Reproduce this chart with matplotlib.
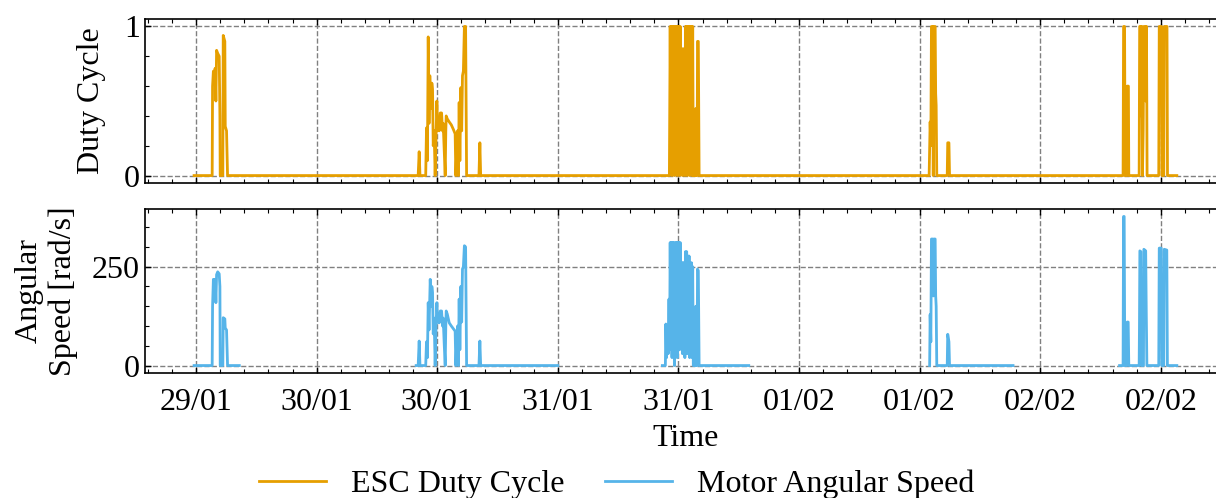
import numpy as np
import pandas as pd
import matplotlib
matplotlib.use("Agg")
import matplotlib.pyplot as plt
import matplotlib.dates as mdates
from matplotlib.ticker import MultipleLocator, AutoMinorLocator

# hours after 29/01 12:00
start = pd.Timestamp("2023-01-29 12:00")

duty_hours = [
    -0.2, 1.60, 1.64, 1.72, 1.80, 1.90, 1.97, 2.04, 2.15, 2.30, 2.37, 2.40, 2.66, 2.70, 2.86, 2.90, 3.03, 3.10, 3.13,
    22.10, 22.20, 22.28, 22.85, 22.93, 23.02, 23.10, 23.18, 23.26, 23.36, 23.46, 23.53, 23.60, 23.69, 23.79, 23.88,
    23.96, 24.05, 24.12, 24.19, 24.30, 24.43, 24.52, 24.59, 24.70, 24.79, 24.85, 24.89, 25.00, 25.19, 25.40, 25.60,
    25.78, 25.85, 25.95, 26.02, 26.10, 26.18, 26.25, 26.35, 26.43, 26.51, 26.60, 26.70, 26.82, 26.92,
    28.15, 28.24, 28.32,
    47.10, 47.18, 47.24, 47.30, 47.36, 47.42, 47.48, 47.54, 47.60, 47.70, 47.76, 47.82, 47.88, 47.94, 48.00, 48.06,
    48.12, 48.18, 48.26, 48.34, 48.40, 48.46, 48.52, 48.58, 48.64, 48.70, 48.76, 48.82, 48.88, 48.94, 49.00, 49.06,
    49.12, 49.18, 49.24, 49.30, 49.36, 49.42, 49.48, 49.70, 49.73, 49.78, 49.86, 49.90, 49.98, 50.06,
    72.95, 73.05, 73.12, 73.18, 73.30, 73.36, 73.42, 73.55, 73.60, 73.65, 73.71, 74.75, 74.80, 74.92, 74.98,
    92.25, 92.30, 92.40, 92.45, 92.62, 92.66, 92.78, 92.82, 93.85, 93.90, 94.00, 94.06, 94.12, 94.18, 94.25, 94.32,
    94.45, 94.52, 94.58, 94.64, 95.80, 95.85, 96.08, 96.12, 96.30, 96.35, 96.62, 96.67, 97.6,
]
duty_vals = [
    0, 0, 0.60, 0.70, 0.68, 0.72, 0.50, 0.84, 0.82, 0.80, 0.40, 0, 0, 0.94, 0.90, 0.33, 0.30, 0.10, 0,
    0, 0.16, 0, 0, 0.32, 0.10, 0.93, 0.35, 0.67, 0.45, 0.62, 0.58, 0.20, 0.30, 0, 0.25,
    0.50, 0.30, 0.38, 0.30, 0.42, 0.42, 0.30, 0.35, 0.15, 0, 0.30, 0.40, 0.38, 0.36, 0.34, 0.31,
    0.28, 0, 0.20, 0.30, 0, 0.49, 0.10, 0.59, 0.30, 0.67, 0.70, 1.0, 1.0, 0,
    0, 0.22, 0,
    0, 1.0, 0.2, 1.0, 0, 1.0, 0.3, 1.0, 0, 1.0, 0.1, 1.0, 0, 1.0, 0.4, 1.0,
    0, 1.0, 0.2, 0.85, 0, 0.85, 0.3, 0.85, 0, 1.0, 0.2, 1.0, 0, 1.0, 0.5, 1.0,
    0, 1.0, 0.3, 1.0, 0, 1.0, 0, 0, 0.45, 0, 0, 0.90, 0.90, 0,
    0, 0.36, 0.20, 1.0, 1.0, 0, 1.0, 1.0, 0.55, 0.47, 0, 0, 0.22, 0.22, 0,
    0, 1.0, 1.0, 0, 0, 0.60, 0.60, 0, 0, 1.0, 1.0, 0.4, 1.0, 0, 0.30, 1.0,
    1.0, 0.5, 1.0, 0, 0, 1.0, 1.0, 0, 0, 1.0, 1.0, 0, 0,
]

speed_hours = [
    -0.2, 1.60, 1.64, 1.72, 1.80, 1.90, 1.97, 2.04, 2.15, 2.30, 2.37, 2.40, 2.66, 2.70, 2.86, 2.90, 3.03, 3.10, 3.13, 4.3,
    10.0,
    21.9, 22.10, 22.20, 22.28, 22.85, 22.93, 23.02, 23.10, 23.18, 23.30, 23.40, 23.46, 23.53, 23.60, 23.69, 23.79,
    23.88, 23.96, 24.05, 24.12, 24.19, 24.30, 24.43, 24.52, 24.59, 24.70, 24.79, 24.85, 24.89, 25.00, 25.19, 25.40,
    25.60, 25.78, 25.85, 25.95, 26.02, 26.10, 26.18, 26.25, 26.35, 26.43, 26.51, 26.60, 26.70, 26.82, 26.92,
    28.15, 28.24, 28.32, 36.0,
    40.0,
    46.4, 46.70, 46.75, 46.82, 46.90, 46.98, 47.06, 47.12, 47.18, 47.24, 47.30, 47.36, 47.42, 47.48, 47.54, 47.60,
    47.70, 47.76, 47.82, 47.88, 47.94, 48.00, 48.06, 48.12, 48.18, 48.26, 48.34, 48.40, 48.46, 48.52, 48.58, 48.64,
    48.70, 48.76, 48.82, 48.88, 48.94, 49.00, 49.06, 49.12, 49.18, 49.24, 49.30, 49.36, 49.42, 49.48, 49.70, 49.73,
    49.78, 49.86, 49.90, 49.98, 50.06, 55.0,
    65.0,
    73.0, 73.05, 73.12, 73.18, 73.30, 73.36, 73.42, 73.55, 73.60, 73.65, 73.71, 74.75, 74.80, 74.92, 74.98, 81.3,
    85.0,
    91.9, 92.25, 92.30, 92.36, 92.42, 92.62, 92.66, 92.76, 92.82, 93.85, 93.88, 93.92, 94.02, 94.08, 94.28, 94.32,
    94.50, 94.56, 94.62, 95.80, 95.85, 96.05, 96.10, 96.30, 96.35, 96.60, 96.66, 97.6,
]
speed_vals = [
    0, 0, 150, 218, 215, 218, 159, 230, 237, 232, 200, 0, 0, 121, 118, 95, 90, 30, 0, 0,
    np.nan,
    0, 0, 62, 0, 0, 60, 20, 159, 90, 218, 150, 200, 184, 80, 120, 0,
    100, 159, 110, 130, 108, 138, 138, 100, 120, 50, 0, 100, 138, 130, 108, 100,
    93, 87, 0, 70, 100, 0, 168, 40, 200, 110, 244, 250, 303, 300, 0,
    0, 62, 0, 0,
    np.nan,
    0, 0, 105, 20, 100, 30, 168, 40, 311, 60, 311, 20, 311, 100, 311, 0,
    311, 50, 311, 20, 311, 150, 311, 40, 311, 80, 260, 30, 260, 100, 260, 20,
    288, 80, 288, 30, 277, 150, 277, 20, 260, 100, 260, 20, 250, 0, 0, 150,
    0, 0, 244, 240, 0, 0,
    np.nan,
    0, 129, 60, 320, 320, 176, 320, 320, 176, 150, 0, 0, 79, 60, 0, 0,
    np.nan,
    0, 0, 377, 377, 0, 0, 110, 110, 0, 0, 95, 290, 288, 0, 0, 294,
    290, 130, 0, 0, 297, 297, 0, 0, 294, 292, 0, 0,
]

duty_time = start + pd.to_timedelta(duty_hours, unit="h")
speed_time = start + pd.to_timedelta(speed_hours, unit="h")

plt.rcParams["font.family"] = ["Liberation Serif", "DejaVu Serif"]
plt.rcParams["font.size"] = 23
plt.rcParams["axes.linewidth"] = 1.2
plt.rcParams["xtick.direction"] = "in"
plt.rcParams["ytick.direction"] = "in"
plt.rcParams["xtick.top"] = True
plt.rcParams["ytick.right"] = True
plt.rcParams["xtick.major.size"] = 4.3
plt.rcParams["ytick.major.size"] = 4.3
plt.rcParams["xtick.minor.size"] = 2.7
plt.rcParams["ytick.minor.size"] = 2.7
plt.rcParams["xtick.major.width"] = 1.0
plt.rcParams["ytick.major.width"] = 1.0
plt.rcParams["xtick.minor.width"] = 0.8
plt.rcParams["ytick.minor.width"] = 0.8
plt.rcParams["xtick.minor.visible"] = True
plt.rcParams["ytick.minor.visible"] = True

fig = plt.figure(figsize=(12.16, 4.98), dpi=100)
ax1 = fig.add_axes([0.1192, 0.6325, 0.889, 0.3293])
ax2 = fig.add_axes([0.1192, 0.251, 0.889, 0.3293], sharex=ax1)

orange = "#E69F00"
blue = "#56B4E9"

l1, = ax1.plot(duty_time, duty_vals, color=orange, lw=2.0, label="ESC Duty Cycle")
l2, = ax2.plot(speed_time, speed_vals, color=blue, lw=2.0, label="Motor Angular Speed")

for ax in (ax1, ax2):
    ax.grid(True, which="major", linestyle="--", color="#808080", lw=1.0)
    ax.xaxis.set_major_locator(mdates.HourLocator(byhour=[0, 12]))
    ax.xaxis.set_major_formatter(mdates.DateFormatter("%d/%m"))
    ax.xaxis.set_minor_locator(AutoMinorLocator(5))
    ax.yaxis.set_minor_locator(AutoMinorLocator(5))
    ax.tick_params(which="both", top=True, right=True)

ax1.yaxis.set_major_locator(MultipleLocator(1))
ax2.yaxis.set_major_locator(MultipleLocator(250))
ax1.tick_params(labelbottom=False)
ax2.tick_params(axis="x", pad=10.5)

ax1.set_ylabel("Duty Cycle")
ax2.set_ylabel("Angular\nSpeed [rad/s]")
ax1.yaxis.set_label_coords(-0.036, 0.5)
ax2.yaxis.set_label_coords(-0.062, 0.5)
ax2.set_xlabel("Time", labelpad=5.5)

fig.legend(handles=[l1, l2], loc="lower center", bbox_to_anchor=(0.507, -0.06), ncol=2,
           frameon=False, handlelength=2.1, handletextpad=0.78, columnspacing=1.25)

fig.savefig("out.png", dpi=100)
